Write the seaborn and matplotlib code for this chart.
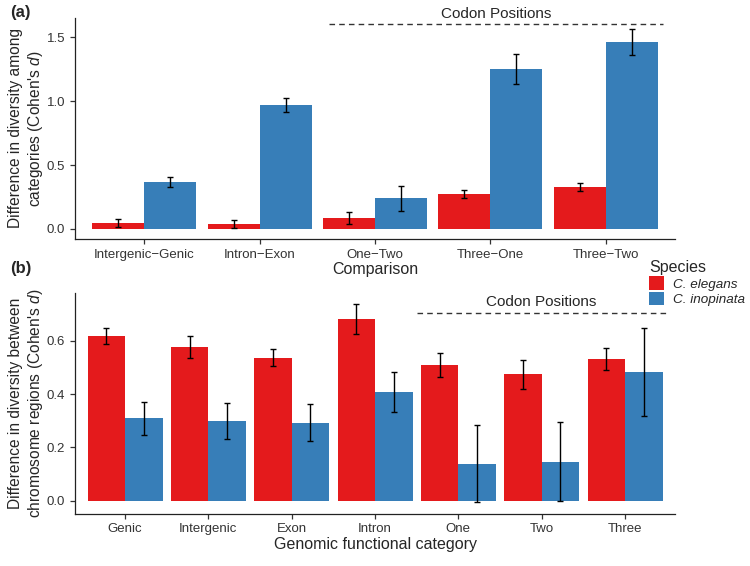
import matplotlib
matplotlib.use("Agg")
import matplotlib.pyplot as plt
import seaborn as sns
import pandas as pd
import numpy as np
from matplotlib.patches import Patch

sns.set_theme(style="ticks")
plt.rcParams['font.family'] = ['Liberation Sans', 'DejaVu Sans']
plt.rcParams['mathtext.fontset'] = 'custom'
plt.rcParams['mathtext.it'] = 'Liberation Sans:italic'
plt.rcParams['mathtext.rm'] = 'Liberation Sans'

species = ["C. elegans", "C. inopinata"]
colors = ["#E41A1C", "#377EB8"]

# Panel (a)
comparisons = ["Intergenic\u2212Genic", "Intron\u2212Exon", "One\u2212Two", "Three\u2212One", "Three\u2212Two"]
a_elegans = [0.045, 0.037, 0.085, 0.275, 0.326]
a_elegans_err = [0.03, 0.032, 0.045, 0.03, 0.03]
a_inopinata = [0.367, 0.970, 0.238, 1.251, 1.462]
a_inopinata_err = [0.042, 0.058, 0.10, 0.117, 0.10]

# Panel (b)
categories = ["Genic", "Intergenic", "Exon", "Intron", "One", "Two", "Three"]
b_elegans = [0.619, 0.578, 0.537, 0.682, 0.509, 0.475, 0.531]
b_elegans_err = [0.031, 0.041, 0.031, 0.055, 0.045, 0.055, 0.041]
b_inopinata = [0.309, 0.299, 0.293, 0.408, 0.139, 0.147, 0.483]
b_inopinata_err = [0.061, 0.066, 0.07, 0.076, 0.145, 0.150, 0.165]

df_a = pd.DataFrame({
    "Comparison": comparisons * 2,
    "Species": [species[0]] * len(comparisons) + [species[1]] * len(comparisons),
    "value": a_elegans + a_inopinata,
    "err": a_elegans_err + a_inopinata_err,
})
df_b = pd.DataFrame({
    "Category": categories * 2,
    "Species": [species[0]] * len(categories) + [species[1]] * len(categories),
    "value": b_elegans + b_inopinata,
    "err": b_elegans_err + b_inopinata_err,
})

fig = plt.figure(figsize=(7.5, 5.66), dpi=100)
ax_a = fig.add_axes([0.1, 0.578, 0.8, 0.39])
ax_b = fig.add_axes([0.1, 0.0924, 0.8, 0.3896])

tick_col = "#333333"

def draw(ax, df, xcol, errs):
    sns.barplot(data=df, x=xcol, y="value", hue="Species", hue_order=species,
                palette=colors, width=0.9, errorbar=None, legend=False,
                saturation=1, ax=ax, linewidth=0)
    for cont, err in zip(ax.containers, errs):
        xs = [p.get_x() + p.get_width() / 2 for p in cont.patches]
        ys = [p.get_height() for p in cont.patches]
        ax.errorbar(xs, ys, yerr=err, fmt="none", ecolor="black",
                    elinewidth=1.0, capsize=2.5, capthick=1.0, zorder=5)
    sns.despine(ax=ax)
    for s in ["left", "bottom"]:
        ax.spines[s].set_color("#222222")
        ax.spines[s].set_linewidth(0.9)
    ax.tick_params(axis="both", colors="#333333", labelcolor=tick_col,
                   labelsize=9.5, length=3.5, width=0.9, direction="out")

draw(ax_a, df_a, "Comparison", [a_elegans_err, a_inopinata_err])
ax_a.set_xlim(-0.6, len(comparisons) - 0.4)
ax_a.set_ylim(-0.078, 1.65)
ax_a.set_yticks([0.0, 0.5, 1.0, 1.5])
ax_a.set_yticklabels(["0.0", "0.5", "1.0", "1.5"])
ax_a.set_xlabel("Comparison", fontsize=11.5, labelpad=1)
ax_a.set_ylabel("Difference in diversity among\ncategories (Cohen's $d$)", fontsize=11.2, labelpad=1.5)
ax_a.plot([1.6, 4.5], [1.6, 1.6], ls=(0, (4, 3)), color="#333333", lw=1, clip_on=False)
ax_a.text(3.05, 1.68, "Codon Positions", ha="center", va="center", fontsize=11, clip_on=False)

draw(ax_b, df_b, "Category", [b_elegans_err, b_inopinata_err])
ax_b.set_xlim(-0.6, len(categories) - 0.4)
ax_b.set_ylim(-0.049, 0.779)
ax_b.set_yticks([0.0, 0.2, 0.4, 0.6])
ax_b.set_yticklabels(["0.0", "0.2", "0.4", "0.6"])
ax_b.set_xlabel("Genomic functional category", fontsize=11.5, labelpad=1)
ax_b.set_ylabel("Difference in diversity between\nchromosome regions (Cohen's $d$)", fontsize=11.2, labelpad=1.5)
ax_b.plot([3.5, 6.5], [0.705, 0.705], ls=(0, (4, 3)), color="#333333", lw=1, clip_on=False)
ax_b.text(5.0, 0.745, "Codon Positions", ha="center", va="center", fontsize=11, clip_on=False)

handles = [Patch(facecolor=c, edgecolor="none") for c in colors]
leg = fig.legend(handles, species, title="Species", loc="upper left",
                 bbox_to_anchor=(0.858, 0.55), frameon=False,
                 prop={"style": "italic", "size": 9.7}, title_fontsize=11.5,
                 handlelength=1.1, handleheight=1.15, handletextpad=0.7,
                 labelspacing=0.1, borderaxespad=0)
leg._legend_box.align = "left"

fig.text(0.014, 0.978, "(a)", fontsize=12, fontweight="bold", va="center", ha="left")
fig.text(0.014, 0.526, "(b)", fontsize=12, fontweight="bold", va="center", ha="left")

fig.savefig("out.png", dpi=100)
